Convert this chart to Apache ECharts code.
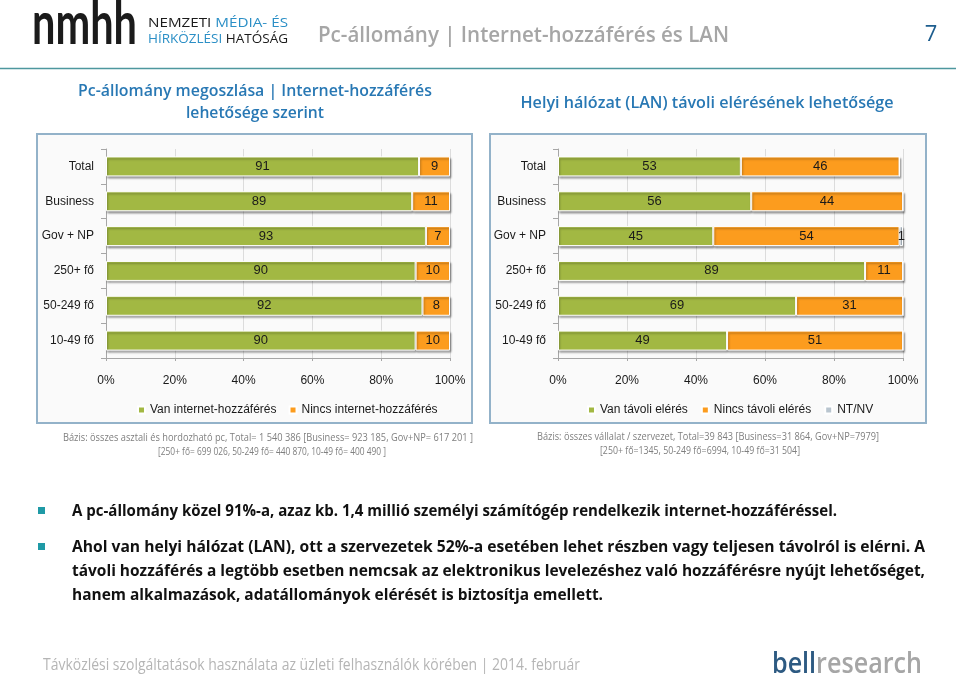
<!DOCTYPE html>
<html><head><meta charset="utf-8">
<script src="https://cdn.jsdelivr.net/npm/echarts@6/dist/echarts.min.js"></script>
<style>html,body{margin:0;padding:0;background:#fff}#c{width:960px;height:681px}</style>
</head><body><div id="c"></div>
<script>
// ---- data ----
const categories = ['Total', 'Business', 'Gov + NP', '250+ fő', '50-249 fő', '10-49 fő'];
const vanInternet = [91, 89, 93, 90, 92, 90];
const nincsInternet = [9, 11, 7, 10, 8, 10];
const vanTavoli = [53, 56, 45, 89, 69, 49];
const nincsTavoli = [46, 44, 54, 11, 31, 51];
const ntnv = [0, 0, 1, 0, 0, 0];
const legendLeft = ['Van internet-hozzáférés', 'Nincs internet-hozzáférés'];
const legendRight = ['Van távoli elérés', 'Nincs távoli elérés', 'NT/NV'];

// ---- helpers ----
const FONT = "'Liberation Sans', Arial, sans-serif";
const FS = 12;
const mctx = document.createElement('canvas').getContext('2d');
function fitScale(text, weight, size, family, width) {
  mctx.font = weight + ' ' + size + 'px ' + family;
  const w = mctx.measureText(text).width;
  return w > 0 ? width / w : 1;
}
function txt(text, x, y, size, color, o) {
  o = o || {};
  const family = o.family || "'Open Sans'";
  const weight = o.weight || 'normal';
  const sx = o.width ? fitScale(text, weight, size, family, o.width) : 1;
  return {
    type: 'text', x: x, y: y, scaleX: sx, scaleY: o.scaleY || 1, silent: true, z: 5,
    style: { text: text, fill: color, fontSize: size, fontFamily: family, fontWeight: weight,
      align: o.align || 'left', verticalAlign: 'middle' }
  };
}

const green = '#a2b843', orange = '#fc9c1e', grayc = '#b9c5cf';
const axisGray = '#a6a6a6';
function bar(name, data, color, idx, stack) {
  return {
    name: name, type: 'bar', stack: stack, xAxisIndex: idx, yAxisIndex: idx, data: data,
    barWidth: 20,
    itemStyle: { color: color, borderColor: '#ffffff', borderWidth: 1,
      shadowColor: 'rgba(0,0,0,0.35)', shadowOffsetY: 2, shadowOffsetX: 1, shadowBlur: 2 },
    label: { show: true, position: 'inside', color: '#1a1a1a', fontSize: 13, fontFamily: FONT,
      formatter: p => (p.value > 0 ? String(p.value) : '') },
    emphasis: { disabled: true }
  };
}
function xAx(i) {
  return { gridIndex: i, type: 'value', min: 0, max: 100, interval: 20,
    axisLabel: { formatter: '{value}%', fontSize: FS, color: '#1a1a1a', margin: 17, fontFamily: FONT },
    splitLine: { show: true, lineStyle: { color: '#dcdcdc' } },
    axisLine: { show: true, lineStyle: { color: axisGray } },
    axisTick: { show: true, length: 3, lineStyle: { color: axisGray } } };
}
function yAx(i) {
  return { gridIndex: i, type: 'category', data: categories, inverse: true,
    axisLabel: { fontSize: FS, color: '#1a1a1a', margin: 12, fontFamily: FONT },
    axisLine: { show: true, lineStyle: { color: axisGray } },
    axisTick: { show: true, length: 5, lineStyle: { color: axisGray } } };
}

const titleBlue = '#2878b4';
const baseGray = '#7f7f7f';
const graphics = [
  { type: 'rect', z: -10, silent: true, shape: { x: 37, y: 134, width: 435, height: 289 },
    style: { fill: '#fafafa', stroke: '#93b2c9', lineWidth: 2 } },
  { type: 'rect', z: -10, silent: true, shape: { x: 490, y: 134, width: 436, height: 289 },
    style: { fill: '#fafafa', stroke: '#93b2c9', lineWidth: 2 } },
  { type: 'line', silent: true, shape: { x1: 0, y1: 68.5, x2: 956, y2: 68.5 },
    style: { stroke: '#4e979e', lineWidth: 1.5 } },
  txt('nmhh', 32, 25, 52, '#1b1b1b', { family: 'Lato', weight: 'bold', width: 105, scaleY: 1.15 }),
  {
    type: 'text', x: 148, y: 24, silent: true,
    scaleX: fitScale('NEMZETI MÉDIA- ÉS', 'normal', 12, "'Open Sans'", 140),
    style: { text: '{d|NEMZETI }{b|MÉDIA- ÉS}', verticalAlign: 'middle',
      rich: { d: { fill: '#1b1b1b', fontSize: 12, fontFamily: 'Open Sans' }, b: { fill: '#2b8fc6', fontSize: 12, fontFamily: 'Open Sans' } } }
  },
  {
    type: 'text', x: 148, y: 40, silent: true,
    scaleX: fitScale('HÍRKÖZLÉSI HATÓSÁG', 'normal', 12, "'Open Sans'", 140),
    style: { text: '{b|HÍRKÖZLÉSI }{d|HATÓSÁG}', verticalAlign: 'middle',
      rich: { d: { fill: '#1b1b1b', fontSize: 12, fontFamily: 'Open Sans' }, b: { fill: '#2b8fc6', fontSize: 12, fontFamily: 'Open Sans' } } }
  },
  txt('Pc-állomány | Internet-hozzáférés és LAN', 318, 36, 22, '#a6a6a6', { weight: 600, width: 411 }),
  txt('7', 931, 35, 22, '#1d5d8e', { align: 'center' }),
  txt('Pc-állomány megoszlása | Internet-hozzáférés', 255, 91, 16, titleBlue, { weight: 600, width: 354, align: 'center' }),
  txt('lehetősége szerint', 255, 113, 16, titleBlue, { weight: 600, width: 138, align: 'center' }),
  txt('Helyi hálózat (LAN) távoli elérésének lehetősége', 707, 103, 16, titleBlue, { weight: 600, width: 373, align: 'center' }),
  txt('Bázis: összes asztali és hordozható pc, Total= 1 540 386 [Business= 923 185, Gov+NP= 617 201 ]', 268, 438, 11.5, baseGray, { width: 410, align: 'center' }),
  txt('[250+ fő= 699 026, 50-249 fő= 440 870, 10-49 fő= 400 490 ]', 272, 452, 11.5, baseGray, { width: 228, align: 'center' }),
  txt('Bázis: összes vállalat / szervezet, Total=39 843 [Business=31 864, Gov+NP=7979]', 708, 437, 11.5, baseGray, { width: 342, align: 'center' }),
  txt('[250+ fő=1345, 50-249 fő=6994, 10-49 fő=31 504]', 700, 451, 11.5, baseGray, { width: 200, align: 'center' }),
  { type: 'rect', silent: true, shape: { x: 38, y: 507, width: 7, height: 7 }, style: { fill: '#1f9aa6' } },
  { type: 'rect', silent: true, shape: { x: 38, y: 543, width: 7, height: 7 }, style: { fill: '#1f9aa6' } },
  txt('A pc-állomány közel 91%-a, azaz kb. 1,4 millió személyi számítógép rendelkezik internet-hozzáféréssel.', 72, 511, 16, '#111', { weight: 'bold', width: 765 }),
  txt('Ahol van helyi hálózat (LAN), ott a szervezetek 52%-a esetében lehet részben vagy teljesen távolról is elérni. A', 72, 547, 16, '#111', { weight: 'bold', width: 853 }),
  txt('távoli hozzáférés a legtöbb esetben nemcsak az elektronikus levelezéshez való hozzáférésre nyújt lehetőséget,', 72, 571, 16, '#111', { weight: 'bold', width: 853 }),
  txt('hanem alkalmazások, adatállományok elérését is biztosítja emellett.', 72, 595, 16, '#111', { weight: 'bold', width: 531 }),
  txt('Távközlési szolgáltatások használata az üzleti felhasználók körében | 2014. február', 43, 665, 16, '#b5b5b5', { width: 537 }),
  {
    type: 'text', x: 772, y: 665, silent: true,
    scaleX: fitScale('bellresearch', '600', 28, "'Open Sans'", 150),
    style: { text: '{a|bel}{b|l}{c|research}', verticalAlign: 'middle',
      rich: { a: { fill: '#2d5a82', fontSize: 28, fontWeight: 600, fontFamily: 'Open Sans' },
              b: { fill: '#2d5a82', fontSize: 28, fontWeight: 600, fontFamily: 'Open Sans' },
              c: { fill: '#a6a6a6', fontSize: 28, fontWeight: 600, fontFamily: 'Open Sans' } } }
  }
];

const option = {
  animation: false,
  textStyle: { fontFamily: FONT },
  grid: [
    { left: 106, right: 510, top: 149, height: 209 },
    { left: 558, right: 57, top: 149, height: 209 }
  ],
  xAxis: [xAx(0), xAx(1)],
  yAxis: [yAx(0), yAx(1)],
  legend: [
    { data: legendLeft, left: 132, top: 399, itemWidth: 7, itemHeight: 7, itemGap: 12, icon: 'rect',
      textStyle: { fontSize: FS, color: '#1a1a1a', fontFamily: FONT }, selectedMode: false },
    { data: legendRight, left: 582, top: 399, itemWidth: 7, itemHeight: 7, itemGap: 13, icon: 'rect',
      textStyle: { fontSize: FS, color: '#1a1a1a', fontFamily: FONT }, selectedMode: false }
  ],
  series: [
    bar(legendLeft[0], vanInternet, green, 0, 'L'),
    bar(legendLeft[1], nincsInternet, orange, 0, 'L'),
    bar(legendRight[0], vanTavoli, green, 1, 'R'),
    bar(legendRight[1], nincsTavoli, orange, 1, 'R'),
    bar(legendRight[2], ntnv, grayc, 1, 'R')
  ],
  graphic: { elements: graphics }
};
const chart = echarts.init(document.getElementById('c'), null, { renderer: 'canvas' });
chart.setOption(option);
</script>
</body></html>
